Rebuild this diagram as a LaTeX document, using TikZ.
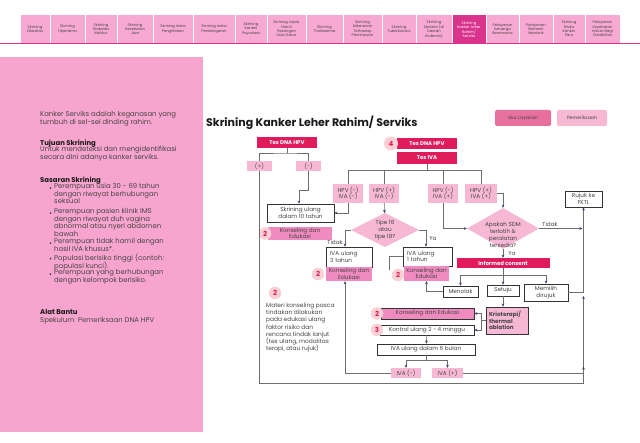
\documentclass[tikz,border=0pt]{standalone}
\usepackage{fontspec}
\setmainfont{Poppins}
\usetikzlibrary{arrows.meta,shapes.geometric}

\definecolor{crimson}{HTML}{E01B5B}
\definecolor{lightpink}{HTML}{F7B8D5}
\definecolor{midpink}{HTML}{F08BC0}
\definecolor{panelpink}{HTML}{F7A4CE}
\definecolor{tabpink}{HTML}{F8A9D3}
\definecolor{tabactive}{HTML}{D9338D}
\definecolor{circlepink}{HTML}{FBD0D5}
\definecolor{txtgray}{HTML}{454545}
\definecolor{linegray}{HTML}{6E6E6E}
\definecolor{tipblue}{HTML}{2E3D5E}
\definecolor{alurpink}{HTML}{E8709E}
\definecolor{periksapink}{HTML}{F6B8D2}

\newcommand{\flowfont}{\fontsize{5.7}{6.6}\selectfont}
\newcommand{\panelfont}{\fontsize{6.9}{7.5}\selectfont\lineskiplimit=-6pt}

\tikzset{
  tab/.style={fill=tabpink, text=txtgray, align=center, inner sep=0pt,
    minimum height=28pt, font=\fontsize{3.7}{4.3}\selectfont},
  redbox/.style={fill=crimson, text=white, inner sep=0pt,
    font=\fontsize{5.4}{6.4}\selectfont\bfseries},
  pinkbox/.style={fill=lightpink, text=txtgray, inner sep=0pt, align=center, font=\flowfont},
  konsbox/.style={fill=midpink, text=txtgray, inner sep=0pt, align=center, font=\flowfont},
  whitebox/.style={draw=black!80, line width=0.6pt, fill=white, text=txtgray,
    inner sep=0pt, align=center, font=\flowfont},
  numdot/.style={circle, fill=circlepink, text=crimson, inner sep=0pt,
    minimum size=12.5pt, font=\fontsize{7}{8}\selectfont\bfseries},
  paneltext/.style={anchor=north west, inner sep=0pt, align=left, text=txtgray,
    font=\panelfont, execute at begin node={\rule{0pt}{6.5pt}}},
  panelhead/.style={anchor=north west, inner sep=0pt, text=black!90,
    font=\panelfont\bfseries, execute at begin node={\rule{0pt}{6.5pt}}},
  conn/.style={draw=linegray, line width=0.6pt},
  arr/.style={conn, -{Stealth[length=3pt,width=2.6pt,color=tipblue]}},
  lbl/.style={inner sep=0pt, text=txtgray, font=\flowfont},
}

\begin{document}
\begin{tikzpicture}[x=1pt,y=-1pt]
  \useasboundingbox (0,0) rectangle (640,443);
  \fill[white] (0,0) rectangle (640,443);

  % menu tabs
  \foreach \xa/\xb/\name in {
    20/50/{Skrining\\Obesitas},
    50/85/{Skrining\\Hipertensi},
    85/117/{Skrining\\Diabetes\\Melitus},
    117/153/{Skrining\\Kesehatan\\Jiwa},
    153/193/{Skrining Indra\\Penglihatan},
    193/235/{Skrining Indra\\Pendengaran},
    235/267/{Skrining\\Kanker\\Payudara},
    267/306/{Skrining Layak\\Hamil\\Pasangan\\Usia Subur},
    306/343/{Skrining\\Thalasemia},
    343/382/{Skrining\\Kekerasan\\Terhadap\\Perempuan},
    382/416/{Skrining\\Tuberkulosis},
    416/452/{Skrining\\Malaria (di\\Daerah\\Endemis)},
    486/519/{Pelayanan\\Keluarga\\Berencana},
    519/553/{Pelayanan\\Berhenti\\Merokok},
    553/585/{Skrining\\Risiko\\Kanker\\Paru},
    585/620/{Pelayanan\\Kesehatan\\Inklusi Bagi\\Disabilitas}}
  {
    \pgfmathsetmacro{\tw}{\xb-\xa-1}
    \pgfmathsetmacro{\tc}{(\xa+\xb)/2}
    \node[tab, minimum width=\tw pt] (tab\xa) at (\tc,29) {\name};
  }
  \node[tab, fill=tabactive, text=white, minimum width=33pt, minimum height=29pt]
    (tabactive) at (469,29.5) {Skrining\\Kanker Leher\\Rahim/\\Serviks};
  \draw[tabactive, line width=1.2pt] (0,43.8) -- (640,43.8);

  % left panel
  \fill[panelpink] (0,57) rectangle (203,432);
  \node[paneltext] (intro) at (40,111.5) {Kanker Serviks adalah keganasan yang\\tumbuh di sel-sel dinding rahim.};
  \node[panelhead] (tujuanh) at (40,138.5) {Tujuan Skrining};
  \node[paneltext] (tujuan) at (40,146.5) {Untuk mendeteksi dan mengidentifikasi\\secara dini adanya kanker serviks.};
  \node[panelhead] (sasaranh) at (40,175.5) {Sasaran Skrining};
  \foreach \yy/\txt [count=\i] in {
    183.5/{Perempuan usia 30 - 69 tahun\\dengan riwayat berhubungan\\seksual},
    208.5/{Perempuan pasien klinik IMS\\dengan riwayat duh vagina\\abnormal atau nyeri abdomen\\bawah},
    238.5/{Perempuan tidak hamil dengan\\hasil IVA khusus*.},
    254/{Populasi berisiko tinggi (contoh:\\populasi kunci).},
    269.5/{Perempuan yang berhubungan\\dengan kelompok berisiko.}}
  {
    \node[paneltext] (item\i) at (54,\yy) {\txt};
    \fill[txtgray] (50.5,\yy+4.6) circle (0.95);
  }
  \node[panelhead] (alath) at (40,307.5) {Alat Bantu};
  \node[paneltext] (alat) at (40,316) {Spekulum\ \ Pemeriksaan DNA HPV};

  % title and buttons
  \node[anchor=west, inner sep=0pt, text=black!90, font=\fontsize{11}{13}\selectfont\bfseries]
    (title) at (206,123) {Skrining Kanker Leher Rahim/ Serviks};
  \node[fill=alurpink, rounded corners=1.5pt, minimum width=56pt, minimum height=16pt,
    inner sep=0pt, text=txtgray, font=\fontsize{4.6}{5.2}\selectfont] (alur) at (523,118) {Alur Layanan};
  \node[fill=periksapink, rounded corners=1.5pt, minimum width=50pt, minimum height=16pt,
    inner sep=0pt, text=txtgray, font=\fontsize{4.6}{5.2}\selectfont] (periksa) at (582,118) {Pemeriksaan};

  % left branch
  \node[redbox, minimum width=60pt, minimum height=11pt] (dnaL) at (287,142.5) {Tes DNA HPV};
  \node[pinkbox, minimum width=25pt, minimum height=10pt] (plus) at (259.5,166) {(+)};
  \node[pinkbox, minimum width=25pt, minimum height=10pt] (minus) at (308.5,166) {(-)};
  \node[whitebox, minimum width=67pt, minimum height=18pt] (skr10) at (300.5,213) {Skrining ulang\\dalam 10 tahun};
  \node[konsbox, minimum width=64pt, minimum height=13pt] (kons1) at (300,233.5) {Konseling dan\\Edukasi};
  \node[numdot] (n1) at (265,233.5) {2};

  % right branch
  \node[redbox, minimum width=60pt, minimum height=11pt] (dnaR) at (427,143.5) {Tes DNA HPV};
  \node[numdot, minimum size=14pt] (n4) at (391,143.5) {4};
  \node[redbox, minimum width=60pt, minimum height=12pt] (iva) at (427,158) {Tes IVA};
  \node[pinkbox, minimum width=30pt, minimum height=19pt] (h1) at (348,193.5) {HPV (-)\\IVA (-)};
  \node[pinkbox, minimum width=30pt, minimum height=19pt] (h2) at (384,193.5) {HPV (+)\\IVA (-)};
  \node[pinkbox, minimum width=30pt, minimum height=19pt] (h3) at (443,193.5) {HPV (-)\\IVA (+)};
  \node[pinkbox, minimum width=32pt, minimum height=19pt] (h4) at (481,193.5) {HPV (+)\\IVA (+)};

  \node[diamond, fill=lightpink, inner sep=0pt, minimum width=68pt, minimum height=34pt,
    label={[lbl, align=center, font=\fontsize{5.7}{7}\selectfont]center:{Tipe 16\\atau\\tipe 18?}}]
    (tipe) at (385,230) {};
  \node[whitebox, align=left, text width=38pt, inner xsep=4pt, minimum height=20pt] (iva3) at (349,257) {IVA ulang\\3 tahun};
  \node[konsbox, minimum width=46pt, minimum height=14pt] (kons2) at (349,274) {Konseling dan\\Edukasi};
  \node[numdot] (n2) at (318,274) {2};
  \node[whitebox, align=left, text width=41pt, inner xsep=4pt, minimum height=19pt] (iva1) at (427.5,256.5) {IVA ulang\\1 tahun};
  \node[konsbox, minimum width=45pt, minimum height=15pt] (kons3) at (426.5,273.5) {Konseling dan\\Edukasi};
  \node[numdot] (n3) at (398,275) {2};

  \node[diamond, fill=lightpink, inner sep=0pt, minimum width=72pt, minimum height=41pt,
    label={[lbl, align=center, yshift=-6pt, font=\fontsize{5.7}{7}\selectfont]center:{Apakah SDM\\terlatih \&\\peralatan\\tersedia?}}]
    (sdm) at (503,228.5) {};
  \node[whitebox, minimum width=37pt, minimum height=16pt] (rujuk) at (583.5,199) {Rujuk ke\\FKTL};
  \node[redbox, minimum width=93pt, minimum height=10pt] (informed) at (503,263) {Informed consent};
  \node[whitebox, minimum width=35pt, minimum height=11pt] (menolak) at (460.5,291.5) {Menolak};
  \node[whitebox, minimum width=32pt, minimum height=11pt] (setuju) at (503,290.5) {Setuju};
  \node[whitebox, minimum width=44pt, minimum height=17pt] (memilih) at (546,292.5) {Memilih\\dirujuk};
  \node[whitebox, fill=lightpink, align=left, text width=36pt, inner xsep=3pt, minimum height=27pt,
    font=\flowfont\bfseries] (krio) at (507,320.5) {Krioterapi/\\thermal\\ablation};
  \node[konsbox, draw=black!80, line width=0.6pt, minimum width=93pt, minimum height=11pt] (kons4) at (427.5,313.5) {Konseling dan Edukasi};
  \node[numdot] (n5) at (377,313.5) {2};
  \node[whitebox, minimum width=94pt, minimum height=10pt] (kontrol) at (427,330) {Kontrol ulang 2 - 4 minggu};
  \node[numdot] (n6) at (377,330) {3};
  \node[whitebox, minimum width=98pt, minimum height=11pt] (iva6) at (426,349.5) {IVA ulang dalam 6 bulan};
  \node[pinkbox, minimum width=30pt, minimum height=10pt] (ivaneg) at (406,373) {IVA (-)};
  \node[pinkbox, minimum width=31pt, minimum height=10pt] (ivapos) at (447.5,373) {IVA (+)};

  % note
  \node[numdot] (n7) at (275,293) {2};
  \node[anchor=north west, inner sep=0pt, align=left, text=txtgray, font=\fontsize{5.9}{7.3}\selectfont]
    (note) at (266,302.5) {Materi konseling pasca\\tindakan dilakukan\\pada edukasi ulang\\faktor risiko dan\\rencana tindak lanjut\\(tes ulang, modalitas\\terapi, atau rujuk)};

  % junctions
  \coordinate (jL) at (287,153);
  \coordinate (jR) at (427,170.5);
  \coordinate (jT) at (582.5,228.5);
  \coordinate (jI) at (503,275);
  \coordinate (jK) at (481,320.5);
  \coordinate (jV) at (426,360);
  \coordinate (jP) at (583.5,366.5);
  \coordinate (jB) at (583.5,296);

  % connectors
  \draw[conn] (dnaL) -- (jL);
  \draw[conn] (plus) |- (jL) -| (minus);
  \draw[arr] (minus.south) -- ++(0,19) -| ([xshift=-1.5pt]skr10.north);
  \draw[arr] (plus.south) |- (583.5,383) -- (jB);
  \draw[conn] (iva) -- (jR);
  \draw[conn] (h1) |- (jR) -| (h4);
  \draw[conn] (h2.north) -- (h2.north |- jR);
  \draw[conn] (h3.north) -- (h3.north |- jR);
  \draw[arr] (h1.south) |- (skr10.east);
  \draw[arr] (h2) -- (tipe);
  \draw[arr] (tipe.west) -| ([xshift=-4pt]iva3.north);
  \node[lbl] (tidak1) at (335,242) {Tidak};
  \draw[arr] (tipe.east) -| ([xshift=-1.5pt]iva1.north);
  \node[lbl] (ya1) at (433,239) {Ya};
  \draw[conn] (iva1.west) -- ++(-13,0) -- ++(0,14);
  \draw[arr] (menolak.west) -| (kons3.south);
  \draw[arr] (h3.south) |- (sdm.west);
  \draw[arr] (h4.east) -| (sdm.north);
  \draw[arr] (sdm.east) -- (jT);
  \node[lbl] (tidak2) at (550,224) {Tidak};
  \draw[arr] (sdm.south) -- (informed.north);
  \node[lbl] (ya2) at (512,254) {Ya};
  \draw[conn] (informed) -- (jI);
  \draw[arr] (jI) -| (menolak);
  \draw[arr] (jI) -| (memilih);
  \draw[arr] (jI) -- (setuju);
  \draw[arr] (setuju.south) -- (setuju.south |- krio.north);
  \draw[arr] (memilih.east) -| (rujuk.south);
  \draw[conn] (krio.west) -- (jK);
  \draw[arr] (jK) |- (kons4.east);
  \draw[arr] (jK) |- (kontrol.east);
  \draw[arr] (kontrol) -- (iva6);
  \draw[conn] (iva6) -- (jV);
  \draw[arr] (jV) -| (ivaneg);
  \draw[arr] (jV) -| (ivapos);
  \draw[arr] (ivaneg.west) -| ([xshift=-4pt]kons2.south);
  \draw[arr] (ivapos.east) -| (jP);
\end{tikzpicture}
\end{document}
